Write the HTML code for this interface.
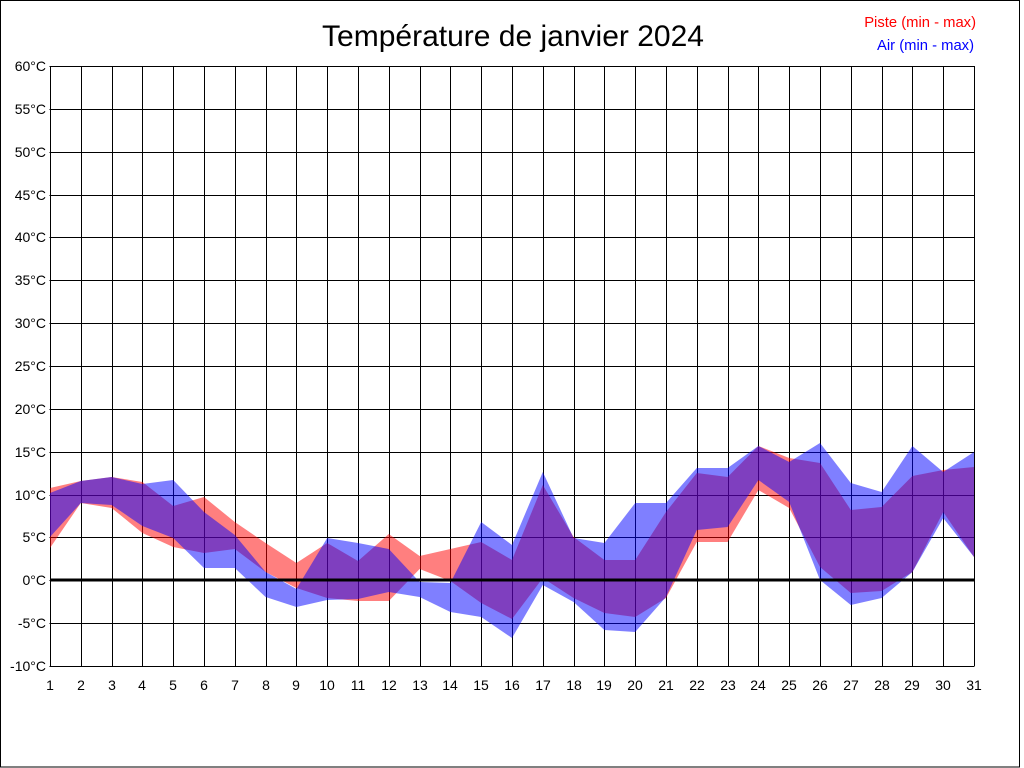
<!DOCTYPE html>
<html><head><meta charset="utf-8"><style>body{margin:0;background:#fff}svg{display:block}</style></head><body>
<svg width="1024" height="768" xmlns="http://www.w3.org/2000/svg" font-family="Liberation Sans, sans-serif">
<rect x="0" y="0" width="1024" height="768" fill="#fff"/>
<rect x="0.5" y="0.5" width="1019" height="766.5" fill="none" stroke="#000" stroke-width="1"/>
<text x="513" y="46" font-size="30" text-anchor="middle">Température de janvier 2024</text>
<text x="976" y="27" font-size="14.8" fill="#f00" text-anchor="end">Piste (min - max)</text>
<text x="974" y="50" font-size="14.8" fill="#00f" text-anchor="end">Air (min - max)</text>
<g id="grid" stroke="#000" stroke-width="1"></g>
<g id="fills"></g>
<line x1="50" y1="580" x2="974" y2="580" stroke="#000" stroke-width="3"/>
<g id="labels" font-size="14" fill="#000"></g>
<script>
var ns="http://www.w3.org/2000/svg";
function X(d){return 50+(d-1)*30.8;}
var g=document.getElementById('grid'),L=document.getElementById('labels'),F=document.getElementById('fills');
function el(p,t,a,txt){var e=document.createElementNS(ns,t);for(var k in a)e.setAttribute(k,a[k]);if(txt)e.textContent=txt;p.appendChild(e);return e;}
for(var i=0;i<=14;i++){var y=66+i*600/14;y=Math.round(y)+0.5;el(g,'line',{x1:49.5,x2:974.5,y1:y,y2:y});
 el(L,'text',{x:46,y:Math.round(66+i*600/14)+5,'text-anchor':'end'},(60-5*i)+'°C');}
for(var d=1;d<=31;d++){var x=Math.round(X(d))+0.5;el(g,'line',{x1:x,x2:x,y1:66,y2:666});
 el(L,'text',{x:Math.round(X(d)),y:690,'text-anchor':'middle'},''+d);}
var rmax=[488,481,477,482,506,497,522,543,563,543,561,534,556,549,542,560,485,537,560,560,512,473,477,446,458,463,510,507,476,470,467];
var rmin=[548,503,508,533,547,553,549,572,588,598,601,601,569,581,603,619,578,598,613,617,598,542,542,490,508,567,593,591,572,512,557];
var bmax=[493,481,477,484,480,512,535,572,589,538,543,549,582,583,522,545,472,538,543,503,503,468,468,446,462,443,483,492,446,472,452];
var bmin=[537,503,505,526,538,568,568,597,607,600,599,592,597,612,617,638,585,602,630,632,597,530,527,480,502,580,605,598,572,518,557];
function band(a,b,c){var p=[];for(var i=0;i<31;i++)p.push(X(i+1)+','+a[i]);for(var i=30;i>=0;i--)p.push(X(i+1)+','+b[i]);el(F,'polygon',{points:p.join(' '),fill:c});}
band(rmax,rmin,'rgba(255,0,0,0.5)');band(bmax,bmin,'rgba(0,0,255,0.5)');
</script>
</svg>
</body></html>
